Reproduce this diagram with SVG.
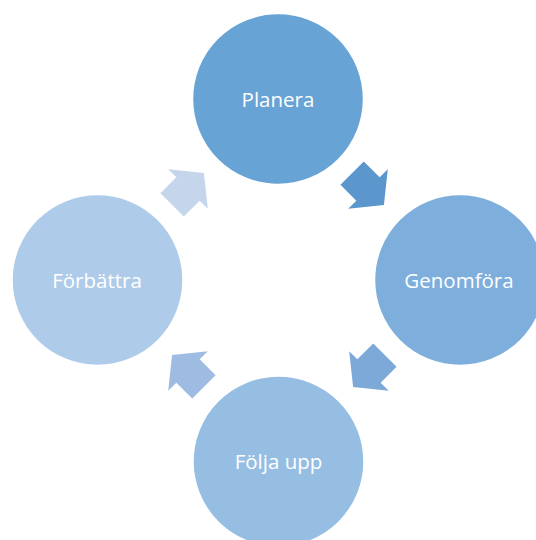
<svg xmlns="http://www.w3.org/2000/svg" width="536" height="540" viewBox="0 0 536 540">
  <defs>
    <style>
      .node { stroke: #ffffff; stroke-width: 1.5; }
      .label { font-family: "Open Sans", "Noto Sans", "Liberation Sans", sans-serif; font-size: 20.5px; fill: #ffffff; text-anchor: middle; }
      .arrow { stroke: none; }
    </style>
    <path id="arr" d="M-22.5,-16.5 L0,-16.5 L0,-28 L22.5,0 L0,28 L0,16.5 L-22.5,16.5 Z"/>
  </defs>
  <rect width="536" height="540" fill="#ffffff"/>
  <g id="connectors">
    <use href="#arr" class="arrow" fill="#5b97cd" transform="translate(368,189) rotate(45)"/>
    <use href="#arr" class="arrow" fill="#7ca9d8" transform="translate(369,371) rotate(135)"/>
    <use href="#arr" class="arrow" fill="#9ebce2" transform="translate(188,371) rotate(225)"/>
    <use href="#arr" class="arrow" fill="#c5d6ec" transform="translate(188,189) rotate(315)"/>
  </g>
  <g id="node-planera">
    <circle class="node" cx="278" cy="99" r="85.5" fill="#67a3d5"/>
    <text class="label" x="278" y="106.5">Planera</text>
  </g>
  <g id="node-genomfora">
    <circle class="node" cx="460" cy="280" r="85.5" fill="#7eaedc"/>
    <text class="label" x="459" y="287.5">Genomföra</text>
  </g>
  <g id="node-folja-upp">
    <circle class="node" cx="278.5" cy="461.5" r="85.5" fill="#96bee3"/>
    <text class="label" x="278.5" y="469">Följa upp</text>
  </g>
  <g id="node-forbattra">
    <circle class="node" cx="97.5" cy="280" r="85.5" fill="#aecce9"/>
    <text class="label" x="97" y="287.5">Förbättra</text>
  </g>
</svg>
